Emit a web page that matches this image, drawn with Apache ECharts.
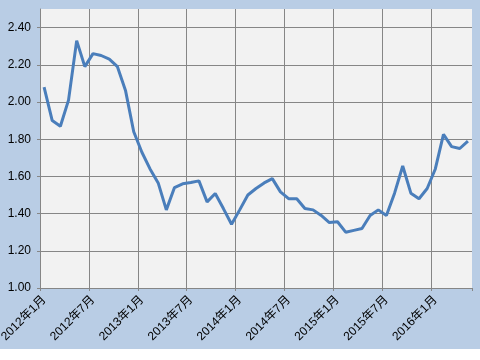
<!DOCTYPE html>
<html>
<head>
<meta charset="utf-8">
<script src="https://cdn.jsdelivr.net/npm/echarts@6/dist/echarts.min.js"></script>
<style>
html,body{margin:0;padding:0;background:#ffffff;}
#chart{width:480px;height:349px;background:#b9cde5;}
</style>
</head>
<body>
<div id="chart"></div>
<script>
var categories = [
  "2012年1月","2012年2月","2012年3月","2012年4月","2012年5月","2012年6月",
  "2012年7月","2012年8月","2012年9月","2012年10月","2012年11月","2012年12月",
  "2013年1月","2013年2月","2013年3月","2013年4月","2013年5月","2013年6月",
  "2013年7月","2013年8月","2013年9月","2013年10月","2013年11月","2013年12月",
  "2014年1月","2014年2月","2014年3月","2014年4月","2014年5月","2014年6月",
  "2014年7月","2014年8月","2014年9月","2014年10月","2014年11月","2014年12月",
  "2015年1月","2015年2月","2015年3月","2015年4月","2015年5月","2015年6月",
  "2015年7月","2015年8月","2015年9月","2015年10月","2015年11月","2015年12月",
  "2016年1月","2016年2月","2016年3月","2016年4月","2016年5月"
];
var values = [
  2.08, 1.90, 1.87, 2.01, 2.33, 2.19, 2.26, 2.25, 2.23, 2.19, 2.06, 1.84,
  1.73, 1.64, 1.565, 1.42, 1.54, 1.56, 1.567, 1.576, 1.463, 1.508, 1.427, 1.343,
  1.42, 1.50, 1.535, 1.565, 1.588, 1.517, 1.48, 1.48, 1.427, 1.42, 1.39, 1.352,
  1.356, 1.30, 1.31, 1.32, 1.39, 1.42, 1.39, 1.51, 1.656, 1.51, 1.48, 1.535,
  1.64, 1.826, 1.76, 1.75, 1.79
];
var yMin = 1.0, yMax = 2.5, yStep = 0.2;

var chart = echarts.init(document.getElementById('chart'), null, {renderer: 'canvas'});
var fontFam = '"Liberation Sans", Arial, "Noto Sans CJK JP", sans-serif';
chart.setOption({
  animation: false,
  backgroundColor: '#b9cde5',
  grid: {left: 40, right: 8, top: 9, bottom: 61, show: true, backgroundColor: '#f2f2f2', borderWidth: 0,
    containLabel: false, outerBoundsMode: 'none'},
  xAxis: {
    type: 'category',
    data: categories,
    boundaryGap: true,
    axisLine: {show: true, lineStyle: {color: '#868686', width: 1}},
    axisTick: {show: true, interval: 5, length: 3, inside: false, lineStyle: {color: '#868686'}},
    axisLabel: {interval: 5, rotate: 45, margin: 10, color: '#000', fontSize: 12, fontFamily: fontFam},
    splitLine: {show: true, interval: 5, showMaxLine: false, lineStyle: {color: '#868686', width: 1}}
  },
  yAxis: {
    type: 'value',
    min: yMin, max: yMax, interval: yStep,
    axisLine: {show: true, lineStyle: {color: '#868686', width: 1}},
    axisTick: {show: true, length: 3, lineStyle: {color: '#868686'}},
    axisLabel: {showMaxLabel: false, margin: 9, color: '#000', fontSize: 12, fontFamily: fontFam,
      formatter: function(v){ return v.toFixed(2); }},
    splitLine: {show: true, showMaxLine: false, lineStyle: {color: '#868686', width: 1}}
  },
  series: [{
    type: 'line',
    data: values,
    showSymbol: false,
    symbol: 'none',
    lineStyle: {color: '#4a7ebb', width: 3},
    itemStyle: {color: '#4a7ebb'}
  }]
});
</script>
</body>
</html>
